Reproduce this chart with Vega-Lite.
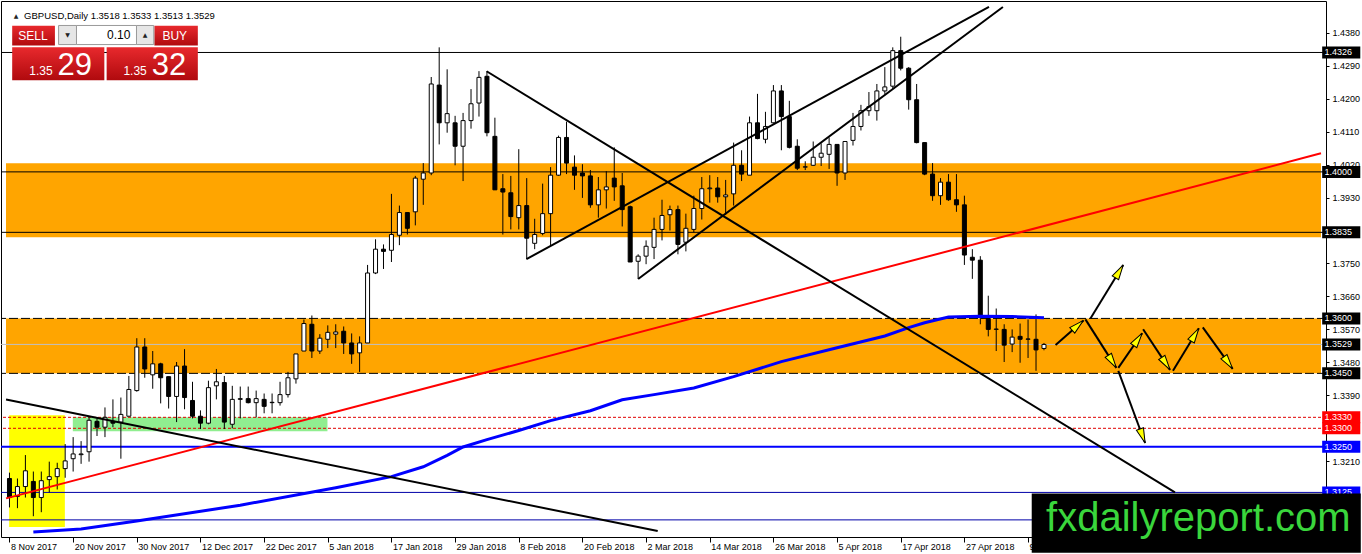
{
  "$schema": "https://vega.github.io/schema/vega-lite/v6.json",
  "description": "GBPUSD daily candlesticks, 8 Nov 2017 - May 2018, with support/resistance zones and trend lines",
  "width": 1362,
  "height": 554,
  "autosize": {"type": "fit", "contains": "padding"},
  "padding": {"left": 0, "right": 0, "top": 1, "bottom": 0},
  "background": "#FFFFFF",
  "resolve": {"axis": {"x": "independent", "y": "independent"}},
  "config": {
    "view": {"stroke": "#000000", "strokeWidth": 1},
    "font": "Liberation Sans",
    "axis": {"domain": false, "grid": false, "labelFont": "Liberation Sans", "labelFontSize": 9, "labelColor": "#000000", "tickColor": "#000000"}
  },
  "datasets": {
    "candles": [
      {"i":0,"o":1.3163,"h":1.3179,"l":1.3084,"c":1.3111},
      {"i":1,"o":1.3114,"h":1.3163,"l":1.3082,"c":1.3141},
      {"i":2,"o":1.3141,"h":1.3227,"l":1.3111,"c":1.3184},
      {"i":3,"o":1.3155,"h":1.3182,"l":1.3060,"c":1.3111},
      {"i":4,"o":1.3111,"h":1.3182,"l":1.3071,"c":1.3157},
      {"i":5,"o":1.3160,"h":1.3209,"l":1.3125,"c":1.3168},
      {"i":6,"o":1.3168,"h":1.3206,"l":1.3133,"c":1.3190},
      {"i":7,"o":1.3190,"h":1.3257,"l":1.3165,"c":1.3211},
      {"i":8,"o":1.3217,"h":1.3276,"l":1.3182,"c":1.3230},
      {"i":9,"o":1.3228,"h":1.3265,"l":1.3203,"c":1.3230},
      {"i":10,"o":1.3236,"h":1.3330,"l":1.3209,"c":1.3322},
      {"i":11,"o":1.3319,"h":1.3327,"l":1.3279,"c":1.3303},
      {"i":12,"o":1.3303,"h":1.3357,"l":1.3276,"c":1.3330},
      {"i":13,"o":1.3319,"h":1.3379,"l":1.3303,"c":1.3314},
      {"i":14,"o":1.3317,"h":1.3384,"l":1.3217,"c":1.3338},
      {"i":15,"o":1.3333,"h":1.3443,"l":1.3333,"c":1.3406},
      {"i":16,"o":1.3403,"h":1.3546,"l":1.3400,"c":1.3522},
      {"i":17,"o":1.3522,"h":1.3546,"l":1.3438,"c":1.3462},
      {"i":18,"o":1.3446,"h":1.3511,"l":1.3408,"c":1.3476},
      {"i":19,"o":1.3476,"h":1.3479,"l":1.3368,"c":1.3438},
      {"i":20,"o":1.3441,"h":1.3441,"l":1.3354,"c":1.3387},
      {"i":21,"o":1.3387,"h":1.3481,"l":1.3317,"c":1.3470},
      {"i":22,"o":1.3470,"h":1.3516,"l":1.3352,"c":1.3384},
      {"i":23,"o":1.3376,"h":1.3427,"l":1.3327,"c":1.3333},
      {"i":24,"o":1.3333,"h":1.3349,"l":1.3298,"c":1.3314},
      {"i":25,"o":1.3314,"h":1.3430,"l":1.3311,"c":1.3411},
      {"i":26,"o":1.3416,"h":1.3462,"l":1.3379,"c":1.3427},
      {"i":27,"o":1.3425,"h":1.3443,"l":1.3298,"c":1.3317},
      {"i":28,"o":1.3311,"h":1.3416,"l":1.3300,"c":1.3379},
      {"i":29,"o":1.3379,"h":1.3414,"l":1.3327,"c":1.3381},
      {"i":30,"o":1.3381,"h":1.3414,"l":1.3368,"c":1.3370},
      {"i":31,"o":1.3370,"h":1.3403,"l":1.3330,"c":1.3381},
      {"i":32,"o":1.3379,"h":1.3395,"l":1.3341,"c":1.3360},
      {"i":33,"o":1.3370,"h":1.3395,"l":1.3341,"c":1.3371},
      {"i":34,"o":1.3370,"h":1.3427,"l":1.3362,"c":1.3392},
      {"i":35,"o":1.3392,"h":1.3454,"l":1.3384,"c":1.3438},
      {"i":36,"o":1.3435,"h":1.3503,"l":1.3422,"c":1.3503},
      {"i":37,"o":1.3511,"h":1.3597,"l":1.3511,"c":1.3586},
      {"i":38,"o":1.3584,"h":1.3608,"l":1.3492,"c":1.3511},
      {"i":39,"o":1.3511,"h":1.3557,"l":1.3503,"c":1.3546},
      {"i":40,"o":1.3543,"h":1.3581,"l":1.3519,"c":1.3562},
      {"i":41,"o":1.3557,"h":1.3584,"l":1.3519,"c":1.3563},
      {"i":42,"o":1.3565,"h":1.3578,"l":1.3503,"c":1.3533},
      {"i":43,"o":1.3533,"h":1.3559,"l":1.3476,"c":1.3503},
      {"i":44,"o":1.3506,"h":1.3551,"l":1.3454,"c":1.3533},
      {"i":45,"o":1.3533,"h":1.3746,"l":1.3533,"c":1.3724},
      {"i":46,"o":1.3724,"h":1.3816,"l":1.3721,"c":1.3789},
      {"i":47,"o":1.3789,"h":1.3802,"l":1.3735,"c":1.3783},
      {"i":48,"o":1.3786,"h":1.3940,"l":1.3754,"c":1.3829},
      {"i":49,"o":1.3827,"h":1.3908,"l":1.3800,"c":1.3889},
      {"i":50,"o":1.3889,"h":1.3889,"l":1.3829,"c":1.3846},
      {"i":51,"o":1.3891,"h":1.3989,"l":1.3854,"c":1.3983},
      {"i":52,"o":1.3980,"h":1.4024,"l":1.3910,"c":1.3997},
      {"i":53,"o":1.3997,"h":1.4259,"l":1.3991,"c":1.4240},
      {"i":54,"o":1.4237,"h":1.4340,"l":1.4075,"c":1.4134},
      {"i":55,"o":1.4134,"h":1.4280,"l":1.4107,"c":1.4159},
      {"i":56,"o":1.4134,"h":1.4153,"l":1.4018,"c":1.4070},
      {"i":57,"o":1.4070,"h":1.4161,"l":1.3975,"c":1.4140},
      {"i":58,"o":1.4140,"h":1.4226,"l":1.4118,"c":1.4186},
      {"i":59,"o":1.4188,"h":1.4275,"l":1.4151,"c":1.4258},
      {"i":60,"o":1.4261,"h":1.4275,"l":1.4097,"c":1.4107},
      {"i":61,"o":1.4097,"h":1.4148,"l":1.3951,"c":1.3951},
      {"i":62,"o":1.3954,"h":1.3994,"l":1.3829,"c":1.3945},
      {"i":63,"o":1.3943,"h":1.3989,"l":1.3843,"c":1.3878},
      {"i":64,"o":1.3875,"h":1.4062,"l":1.3843,"c":1.3908},
      {"i":65,"o":1.3908,"h":1.3983,"l":1.3762,"c":1.3819},
      {"i":66,"o":1.3805,"h":1.3872,"l":1.3789,"c":1.3829},
      {"i":67,"o":1.3832,"h":1.3968,"l":1.3827,"c":1.3886},
      {"i":68,"o":1.3886,"h":1.4013,"l":1.3800,"c":1.3991},
      {"i":69,"o":1.3991,"h":1.4099,"l":1.3989,"c":1.4094},
      {"i":70,"o":1.4094,"h":1.4137,"l":1.3994,"c":1.4024},
      {"i":71,"o":1.4013,"h":1.4045,"l":1.3951,"c":1.3991},
      {"i":72,"o":1.3997,"h":1.4021,"l":1.3929,"c":1.3989},
      {"i":73,"o":1.3989,"h":1.4005,"l":1.3902,"c":1.3910},
      {"i":74,"o":1.3910,"h":1.3986,"l":1.3875,"c":1.3951},
      {"i":75,"o":1.3951,"h":1.4002,"l":1.3900,"c":1.3959},
      {"i":76,"o":1.3983,"h":1.4067,"l":1.3921,"c":1.3959},
      {"i":77,"o":1.3962,"h":1.3997,"l":1.3851,"c":1.3897},
      {"i":78,"o":1.3905,"h":1.3908,"l":1.3754,"c":1.3754},
      {"i":79,"o":1.3756,"h":1.3775,"l":1.3708,"c":1.3770},
      {"i":80,"o":1.3770,"h":1.3813,"l":1.3748,"c":1.3797},
      {"i":81,"o":1.3794,"h":1.3875,"l":1.3762,"c":1.3843},
      {"i":82,"o":1.3843,"h":1.3924,"l":1.3813,"c":1.3881},
      {"i":83,"o":1.3883,"h":1.3908,"l":1.3840,"c":1.3897},
      {"i":84,"o":1.3897,"h":1.3908,"l":1.3775,"c":1.3802},
      {"i":85,"o":1.3808,"h":1.3886,"l":1.3783,"c":1.3846},
      {"i":86,"o":1.3843,"h":1.3935,"l":1.3835,"c":1.3900},
      {"i":87,"o":1.3900,"h":1.3986,"l":1.3870,"c":1.3954},
      {"i":88,"o":1.3954,"h":1.3991,"l":1.3916,"c":1.3956},
      {"i":89,"o":1.3956,"h":1.3986,"l":1.3916,"c":1.3932},
      {"i":90,"o":1.3932,"h":1.3978,"l":1.3883,"c":1.3937},
      {"i":91,"o":1.3940,"h":1.4080,"l":1.3908,"c":1.4018},
      {"i":92,"o":1.4018,"h":1.4059,"l":1.3975,"c":1.3994},
      {"i":93,"o":1.3991,"h":1.4151,"l":1.3991,"c":1.4134},
      {"i":94,"o":1.4134,"h":1.4213,"l":1.4089,"c":1.4091},
      {"i":95,"o":1.4089,"h":1.4164,"l":1.4078,"c":1.4124},
      {"i":96,"o":1.4134,"h":1.4237,"l":1.4132,"c":1.4221},
      {"i":97,"o":1.4221,"h":1.4237,"l":1.4059,"c":1.4151},
      {"i":98,"o":1.4151,"h":1.4194,"l":1.4064,"c":1.4067},
      {"i":99,"o":1.4070,"h":1.4089,"l":1.4005,"c":1.4010},
      {"i":100,"o":1.4013,"h":1.4029,"l":1.4005,"c":1.4014},
      {"i":101,"o":1.4018,"h":1.4083,"l":1.4016,"c":1.4040},
      {"i":102,"o":1.4040,"h":1.4078,"l":1.4016,"c":1.4051},
      {"i":103,"o":1.4048,"h":1.4094,"l":1.4008,"c":1.4075},
      {"i":104,"o":1.4075,"h":1.4075,"l":1.3962,"c":1.3997},
      {"i":105,"o":1.3997,"h":1.4083,"l":1.3978,"c":1.4083},
      {"i":106,"o":1.4086,"h":1.4161,"l":1.4072,"c":1.4124},
      {"i":107,"o":1.4124,"h":1.4183,"l":1.4113,"c":1.4167},
      {"i":108,"o":1.4167,"h":1.4218,"l":1.4153,"c":1.4178},
      {"i":109,"o":1.4167,"h":1.4240,"l":1.4140,"c":1.4221},
      {"i":110,"o":1.4221,"h":1.4286,"l":1.4213,"c":1.4232},
      {"i":111,"o":1.4234,"h":1.4340,"l":1.4226,"c":1.4331},
      {"i":112,"o":1.4331,"h":1.4369,"l":1.4277,"c":1.4283},
      {"i":113,"o":1.4283,"h":1.4286,"l":1.4170,"c":1.4197},
      {"i":114,"o":1.4197,"h":1.4240,"l":1.4078,"c":1.4080},
      {"i":115,"o":1.4080,"h":1.4080,"l":1.3991,"c":1.3994},
      {"i":116,"o":1.3994,"h":1.4024,"l":1.3921,"c":1.3935},
      {"i":117,"o":1.3935,"h":1.3983,"l":1.3910,"c":1.3972},
      {"i":118,"o":1.3972,"h":1.3994,"l":1.3921,"c":1.3924},
      {"i":119,"o":1.3924,"h":1.3994,"l":1.3891,"c":1.3910},
      {"i":120,"o":1.3910,"h":1.3935,"l":1.3746,"c":1.3773},
      {"i":121,"o":1.3767,"h":1.3789,"l":1.3708,"c":1.3759},
      {"i":122,"o":1.3759,"h":1.3770,"l":1.3584,"c":1.3605},
      {"i":123,"o":1.3600,"h":1.3662,"l":1.3551,"c":1.3570},
      {"i":124,"o":1.3570,"h":1.3627,"l":1.3511,"c":1.3571},
      {"i":125,"o":1.3570,"h":1.3584,"l":1.3481,"c":1.3527},
      {"i":126,"o":1.3530,"h":1.3570,"l":1.3508,"c":1.3549},
      {"i":127,"o":1.3551,"h":1.3586,"l":1.3479,"c":1.3543},
      {"i":128,"o":1.3543,"h":1.3597,"l":1.3492,"c":1.3544},
      {"i":129,"o":1.3543,"h":1.3611,"l":1.3457,"c":1.3514},
      {"i":130,"o":1.3518,"h":1.3533,"l":1.3513,"c":1.3529}
    ],
    "ma": [
      {"i":3,"v":1.3017},{"i":9,"v":1.3025},{"i":16,"v":1.3047},{"i":29,"v":1.3090},
      {"i":41,"v":1.3138},{"i":48,"v":1.3168},{"i":52,"v":1.3195},{"i":55,"v":1.3226},
      {"i":57,"v":1.3249},{"i":60,"v":1.3269},{"i":64,"v":1.3294},{"i":68,"v":1.3321},
      {"i":73,"v":1.3348},{"i":77,"v":1.3378},{"i":81,"v":1.3392},{"i":86,"v":1.3410},
      {"i":91,"v":1.3441},{"i":97,"v":1.3482},{"i":104,"v":1.3520},{"i":110,"v":1.3552},
      {"i":113,"v":1.3575},{"i":115,"v":1.3588},{"i":118,"v":1.3604},{"i":122,"v":1.3606},
      {"i":126,"v":1.3605},{"i":130,"v":1.3602}
    ],
    "hlines": [
      {"y":1.3529,"kind":"gray"},
      {"y":1.4326,"kind":"black"},
      {"y":1.4000,"kind":"black"},
      {"y":1.3835,"kind":"black"},
      {"y":1.3600,"kind":"dash"},
      {"y":1.3450,"kind":"dash"},
      {"y":1.3330,"kind":"red"},
      {"y":1.3300,"kind":"red"},
      {"y":1.3250,"kind":"blue2"},
      {"y":1.3125,"kind":"navy"},
      {"y":1.3050,"kind":"navy"}
    ],
    "trend": [
      {"x1":-0.43,"y1":1.31087,"x2":164.81,"y2":1.40507,"kind":"red"},
      {"x1":59.96,"y1":1.42747,"x2":146.46,"y2":1.31250,"kind":"black"},
      {"x1":64.96,"y1":1.37618,"x2":123.09,"y2":1.44502,"kind":"black"},
      {"x1":79.0,"y1":1.37078,"x2":124.84,"y2":1.44502,"kind":"black"},
      {"x1":-0.43,"y1":1.33786,"x2":81.46,"y2":1.30196,"kind":"black"}
    ],
    "arrows": [
      {"x1":131.46,"y1":1.35271,"x2":134.96,"y2":1.35946},
      {"x1":135.21,"y1":1.35973,"x2":139.09,"y2":1.34650},
      {"x1":139.34,"y1":1.34650,"x2":142.34,"y2":1.35595},
      {"x1":142.46,"y1":1.35703,"x2":145.84,"y2":1.34596},
      {"x1":146.21,"y1":1.34569,"x2":149.46,"y2":1.35730},
      {"x1":149.96,"y1":1.35757,"x2":153.71,"y2":1.34623},
      {"x1":135.84,"y1":1.36000,"x2":139.96,"y2":1.37457},
      {"x1":139.34,"y1":1.34569,"x2":142.71,"y2":1.32599}
    ],
    "levels": [
      {"y":1.4326,"kind":"black"},
      {"y":1.4000,"kind":"black"},
      {"y":1.3835,"kind":"black"},
      {"y":1.3600,"kind":"black"},
      {"y":1.3529,"kind":"black"},
      {"y":1.3450,"kind":"black"},
      {"y":1.3330,"kind":"red"},
      {"y":1.3300,"kind":"red"},
      {"y":1.3250,"kind":"blue"},
      {"y":1.3125,"kind":"blue"}
    ]
  },
  "layer": [
    {
      "data": {"values": [{"y1":1.40237,"y2":1.38213},{"y1":1.3600,"y2":1.3450}]},
      "mark": {"type": "rect", "color": "#FFA500"},
      "encoding": {
        "x": {"datum": -0.4375, "type": "quantitative", "scale": {"domain": [-0.4375, 164.8125], "nice": false, "zero": false}, "axis": null},
        "x2": {"datum": 164.8125},
        "y": {"field": "y1", "type": "quantitative", "scale": {"domain": [1.301694, 1.445286], "nice": false, "zero": false}, "axis": null},
        "y2": {"field": "y2"}
      }
    },
    {
      "data": {"values": [{"x1":-0.04,"x2":6.96,"y1":1.33355,"y2":1.30305,"zone":"yellow"},{"x1":7.96,"x2":39.96,"y1":1.3330,"y2":1.32923,"zone":"green"}]},
      "mark": {"type": "rect"},
      "encoding": {
        "x": {"field": "x1", "type": "quantitative", "scale": {"domain": [-0.4375, 164.8125], "nice": false, "zero": false}, "axis": null},
        "x2": {"field": "x2"},
        "y": {"field": "y1", "type": "quantitative", "scale": {"domain": [1.301694, 1.445286], "nice": false, "zero": false}, "axis": null},
        "y2": {"field": "y2"},
        "color": {"condition": {"test": "datum.zone == 'green'", "value": "#90EE90"}, "value": "#FFFF00"}
      }
    },
    {
      "data": {"name": "hlines"},
      "mark": {"type": "rule"},
      "encoding": {
        "y": {"field": "y", "type": "quantitative", "scale": {"domain": [1.301694, 1.445286], "nice": false, "zero": false}, "axis": null},
        "color": {"condition": [
          {"test": "datum.kind == 'gray'", "value": "#C0C0C0"},
          {"test": "datum.kind == 'red'", "value": "#E00000"},
          {"test": "datum.kind == 'blue2'", "value": "#0000FF"},
          {"test": "datum.kind == 'navy'", "value": "#0000A8"}
        ], "value": "#000000"},
        "strokeDash": {"condition": [
          {"test": "datum.kind == 'dash'", "value": [9, 3]},
          {"test": "datum.kind == 'red'", "value": [3, 2]}
        ], "value": [1, 0]},
        "strokeWidth": {"condition": {"test": "datum.kind == 'blue2'", "value": 2}, "value": 1}
      }
    },
    {
      "data": {"name": "candles"},
      "mark": {"type": "rule", "color": "#000000", "strokeWidth": 1},
      "encoding": {
        "x": {"field": "i", "type": "quantitative", "scale": {"domain": [-0.4375, 164.8125], "nice": false, "zero": false},
          "axis": {"orient": "bottom", "title": null, "values": [0,8,16,24,32,40,48,56,64,72,80,88,96,104,112,120,128],
            "labelExpr": "['8 Nov 2017','20 Nov 2017','30 Nov 2017','12 Dec 2017','22 Dec 2017','5 Jan 2018','17 Jan 2018','29 Jan 2018','8 Feb 2018','20 Feb 2018','2 Mar 2018','14 Mar 2018','26 Mar 2018','5 Apr 2018','17 Apr 2018','27 Apr 2018','9 May 2018'][round(datum.value / 8)]",
            "labelAlign": "left", "labelBaseline": "top", "labelOffset": 1, "labelPadding": 0, "tickSize": 5, "labelFlush": false, "labelOverlap": false}},
        "y": {"field": "l", "type": "quantitative", "scale": {"domain": [1.301694, 1.445286], "nice": false, "zero": false},
          "axis": {"orient": "right", "title": null, "values": [1.438,1.429,1.420,1.411,1.402,1.393,1.375,1.366,1.357,1.348,1.339,1.321],
            "format": ".4f", "tickSize": 3, "labelPadding": 3, "labelFlush": false, "labelOverlap": false}},
        "y2": {"field": "h"}
      }
    },
    {
      "data": {"name": "candles"},
      "mark": {"type": "bar", "size": 4, "stroke": "#000000", "strokeWidth": 1},
      "encoding": {
        "x": {"field": "i", "type": "quantitative", "scale": {"domain": [-0.4375, 164.8125], "nice": false, "zero": false}, "axis": null},
        "y": {"field": "o", "type": "quantitative", "scale": {"domain": [1.301694, 1.445286], "nice": false, "zero": false}, "axis": null},
        "y2": {"field": "c"},
        "fill": {"condition": {"test": "datum.c >= datum.o", "value": "#FFFFFF"}, "value": "#000000"}
      }
    },
    {
      "data": {"name": "ma"},
      "mark": {"type": "line", "color": "#0000FF", "strokeWidth": 3, "clip": true},
      "encoding": {
        "x": {"field": "i", "type": "quantitative", "scale": {"domain": [-0.4375, 164.8125], "nice": false, "zero": false}, "axis": null},
        "y": {"field": "v", "type": "quantitative", "scale": {"domain": [1.301694, 1.445286], "nice": false, "zero": false}, "axis": null}
      }
    },
    {
      "data": {"name": "trend"},
      "mark": {"type": "rule", "strokeWidth": 2, "clip": true},
      "encoding": {
        "x": {"field": "x1", "type": "quantitative", "scale": {"domain": [-0.4375, 164.8125], "nice": false, "zero": false}, "axis": null},
        "x2": {"field": "x2"},
        "y": {"field": "y1", "type": "quantitative", "scale": {"domain": [1.301694, 1.445286], "nice": false, "zero": false}, "axis": null},
        "y2": {"field": "y2"},
        "color": {"condition": {"test": "datum.kind == 'red'", "value": "#FF0000"}, "value": "#000000"}
      }
    },
    {
      "data": {"name": "arrows"},
      "mark": {"type": "rule", "strokeWidth": 2, "color": "#000000"},
      "encoding": {
        "x": {"field": "x1", "type": "quantitative", "scale": {"domain": [-0.4375, 164.8125], "nice": false, "zero": false}, "axis": null},
        "x2": {"field": "x2"},
        "y": {"field": "y1", "type": "quantitative", "scale": {"domain": [1.301694, 1.445286], "nice": false, "zero": false}, "axis": null},
        "y2": {"field": "y2"}
      }
    },
    {
      "data": {"name": "arrows"},
      "transform": [
        {"calculate": "(datum.x2 - datum.x1) * 8", "as": "dx"},
        {"calculate": "(datum.y2 - datum.y1) * 3705", "as": "dy"},
        {"calculate": "sqrt(datum.dx * datum.dx + datum.dy * datum.dy)", "as": "len"},
        {"calculate": "atan2(datum.dx, datum.dy) * 180 / PI", "as": "ang"},
        {"calculate": "datum.x2 - 7.5 * datum.dx / datum.len / 8", "as": "hx"},
        {"calculate": "datum.y2 - 7.5 * datum.dy / datum.len / 3705", "as": "hy"}
      ],
      "mark": {"type": "point", "shape": "M0,-1L0.5,1L-0.5,1Z", "size": 225, "filled": true, "fill": "#FFFF00", "stroke": "#000000", "strokeWidth": 1, "opacity": 1},
      "encoding": {
        "x": {"field": "hx", "type": "quantitative", "scale": {"domain": [-0.4375, 164.8125], "nice": false, "zero": false}, "axis": null},
        "y": {"field": "hy", "type": "quantitative", "scale": {"domain": [1.301694, 1.445286], "nice": false, "zero": false}, "axis": null},
        "angle": {"field": "ang", "type": "quantitative", "scale": null}
      }
    },
    {
      "data": {"name": "levels"},
      "mark": {"type": "bar", "orient": "horizontal", "size": 12},
      "encoding": {
        "x": {"datum": 164.96, "type": "quantitative", "scale": {"domain": [-0.4375, 164.8125], "nice": false, "zero": false}, "axis": null},
        "x2": {"datum": 169.75},
        "y": {"field": "y", "type": "quantitative", "scale": {"domain": [1.301694, 1.445286], "nice": false, "zero": false}, "axis": null},
        "color": {"condition": [
          {"test": "datum.kind == 'red'", "value": "#FF0000"},
          {"test": "datum.kind == 'blue'", "value": "#0000FF"}
        ], "value": "#000000"}
      }
    },
    {
      "data": {"name": "levels"},
      "mark": {"type": "text", "align": "left", "baseline": "middle", "fontSize": 9, "color": "#FFFFFF", "font": "Liberation Sans"},
      "encoding": {
        "x": {"datum": 165.25, "type": "quantitative", "scale": {"domain": [-0.4375, 164.8125], "nice": false, "zero": false}, "axis": null},
        "y": {"field": "y", "type": "quantitative", "scale": {"domain": [1.301694, 1.445286], "nice": false, "zero": false}, "axis": null},
        "text": {"field": "y", "type": "quantitative", "format": ".4f"}
      }
    },
    {
      "data": {"values": [
        {"x1":0.34,"x2":5.71,"y1":1.43989,"y2":1.43449},
        {"x1":18.21,"x2":23.67,"y1":1.43989,"y2":1.43449},
        {"x1":0.34,"x2":11.92,"y1":1.43403,"y2":1.42504},
        {"x1":12.21,"x2":23.67,"y1":1.43403,"y2":1.42504}
      ]},
      "mark": {"type": "rect", "color": {"gradient": "linear", "x1": 0, "y1": 0, "x2": 0, "y2": 1, "stops": [{"offset": 0, "color": "#E8292D"}, {"offset": 1, "color": "#B00A0E"}]}},
      "encoding": {
        "x": {"field": "x1", "type": "quantitative", "scale": {"domain": [-0.4375, 164.8125], "nice": false, "zero": false}, "axis": null},
        "x2": {"field": "x2"},
        "y": {"field": "y1", "type": "quantitative", "scale": {"domain": [1.301694, 1.445286], "nice": false, "zero": false}, "axis": null},
        "y2": {"field": "y2"}
      }
    },
    {
      "data": {"values": [
        {"x1":6.17,"x2":8.42,"y1":1.43997,"y2":1.43476,"part":"btn"},
        {"x1":8.42,"x2":15.96,"y1":1.43997,"y2":1.43476,"part":"field"},
        {"x1":15.96,"x2":18.13,"y1":1.43997,"y2":1.43476,"part":"btn"}
      ]},
      "mark": {"type": "rect", "stroke": "#9A9A9A", "strokeWidth": 1},
      "encoding": {
        "x": {"field": "x1", "type": "quantitative", "scale": {"domain": [-0.4375, 164.8125], "nice": false, "zero": false}, "axis": null},
        "x2": {"field": "x2"},
        "y": {"field": "y1", "type": "quantitative", "scale": {"domain": [1.301694, 1.445286], "nice": false, "zero": false}, "axis": null},
        "y2": {"field": "y2"},
        "fill": {"condition": {"test": "datum.part == 'field'", "value": "#FFFFFF"}, "value": "#E6E6E6"}
      }
    },
    {
      "data": {"values": [{"x":2.96,"y":1.43719,"t":"SELL"},{"x":20.77,"y":1.43719,"t":"BUY"}]},
      "mark": {"type": "text", "align": "center", "baseline": "middle", "fontSize": 12, "color": "#FFFFFF", "font": "Liberation Sans"},
      "encoding": {
        "x": {"field": "x", "type": "quantitative", "scale": {"domain": [-0.4375, 164.8125], "nice": false, "zero": false}, "axis": null},
        "y": {"field": "y", "type": "quantitative", "scale": {"domain": [1.301694, 1.445286], "nice": false, "zero": false}, "axis": null},
        "text": {"field": "t"}
      }
    },
    {
      "data": {"values": [{"x":15.2,"y":1.43746,"t":"0.10"}]},
      "mark": {"type": "text", "align": "right", "baseline": "middle", "fontSize": 12, "color": "#000000", "font": "Liberation Sans"},
      "encoding": {
        "x": {"field": "x", "type": "quantitative", "scale": {"domain": [-0.4375, 164.8125], "nice": false, "zero": false}, "axis": null},
        "y": {"field": "y", "type": "quantitative", "scale": {"domain": [1.301694, 1.445286], "nice": false, "zero": false}, "axis": null},
        "text": {"field": "t"}
      }
    },
    {
      "data": {"values": [{"x":7.3,"y":1.43746,"t":"▼"},{"x":17.05,"y":1.43746,"t":"▲"},{"x":0.84,"y":1.44267,"t":"▲"}]},
      "mark": {"type": "text", "align": "center", "baseline": "middle", "fontSize": 6, "color": "#222222", "font": "DejaVu Sans"},
      "encoding": {
        "x": {"field": "x", "type": "quantitative", "scale": {"domain": [-0.4375, 164.8125], "nice": false, "zero": false}, "axis": null},
        "y": {"field": "y", "type": "quantitative", "scale": {"domain": [1.301694, 1.445286], "nice": false, "zero": false}, "axis": null},
        "text": {"field": "t"}
      }
    },
    {
      "data": {"values": [{"x":3.96,"y":1.42652,"t":"1.35"},{"x":15.78,"y":1.42652,"t":"1.35"}]},
      "mark": {"type": "text", "align": "center", "baseline": "alphabetic", "fontSize": 12, "color": "#FFFFFF", "font": "Liberation Sans"},
      "encoding": {
        "x": {"field": "x", "type": "quantitative", "scale": {"domain": [-0.4375, 164.8125], "nice": false, "zero": false}, "axis": null},
        "y": {"field": "y", "type": "quantitative", "scale": {"domain": [1.301694, 1.445286], "nice": false, "zero": false}, "axis": null},
        "text": {"field": "t"}
      }
    },
    {
      "data": {"values": [{"x":8.21,"y":1.42652,"t":"29"},{"x":20.03,"y":1.42652,"t":"32"}]},
      "mark": {"type": "text", "align": "center", "baseline": "alphabetic", "fontSize": 31, "color": "#FFFFFF", "font": "Liberation Sans"},
      "encoding": {
        "x": {"field": "x", "type": "quantitative", "scale": {"domain": [-0.4375, 164.8125], "nice": false, "zero": false}, "axis": null},
        "y": {"field": "y", "type": "quantitative", "scale": {"domain": [1.301694, 1.445286], "nice": false, "zero": false}, "axis": null},
        "text": {"field": "t"}
      }
    },
    {
      "data": {"values": [{"x":1.84,"y":1.44267,"t":"GBPUSD,Daily  1.3518 1.3533 1.3513 1.3529"}]},
      "mark": {"type": "text", "align": "left", "baseline": "middle", "fontSize": 9.5, "color": "#000000", "font": "Liberation Sans"},
      "encoding": {
        "x": {"field": "x", "type": "quantitative", "scale": {"domain": [-0.4375, 164.8125], "nice": false, "zero": false}, "axis": null},
        "y": {"field": "y", "type": "quantitative", "scale": {"domain": [1.301694, 1.445286], "nice": false, "zero": false}, "axis": null},
        "text": {"field": "t"}
      }
    },
    {
      "data": {"values": [{"x1":128.46,"x2":169.8125,"y1":1.31222,"y2":1.296026}]},
      "mark": {"type": "rect", "color": "#000000"},
      "encoding": {
        "x": {"field": "x1", "type": "quantitative", "scale": {"domain": [-0.4375, 164.8125], "nice": false, "zero": false}, "axis": null},
        "x2": {"field": "x2"},
        "y": {"field": "y1", "type": "quantitative", "scale": {"domain": [1.301694, 1.445286], "nice": false, "zero": false}, "axis": null},
        "y2": {"field": "y2"}
      }
    },
    {
      "data": {"values": [{"x":149.4,"y":1.30197,"t":"fxdailyreport.com"}]},
      "mark": {"type": "text", "align": "center", "baseline": "alphabetic", "fontSize": 40, "color": "#3AD63C", "font": "Liberation Sans"},
      "encoding": {
        "x": {"field": "x", "type": "quantitative", "scale": {"domain": [-0.4375, 164.8125], "nice": false, "zero": false}, "axis": null},
        "y": {"field": "y", "type": "quantitative", "scale": {"domain": [1.301694, 1.445286], "nice": false, "zero": false}, "axis": null},
        "text": {"field": "t"}
      }
    }
  ]
}
